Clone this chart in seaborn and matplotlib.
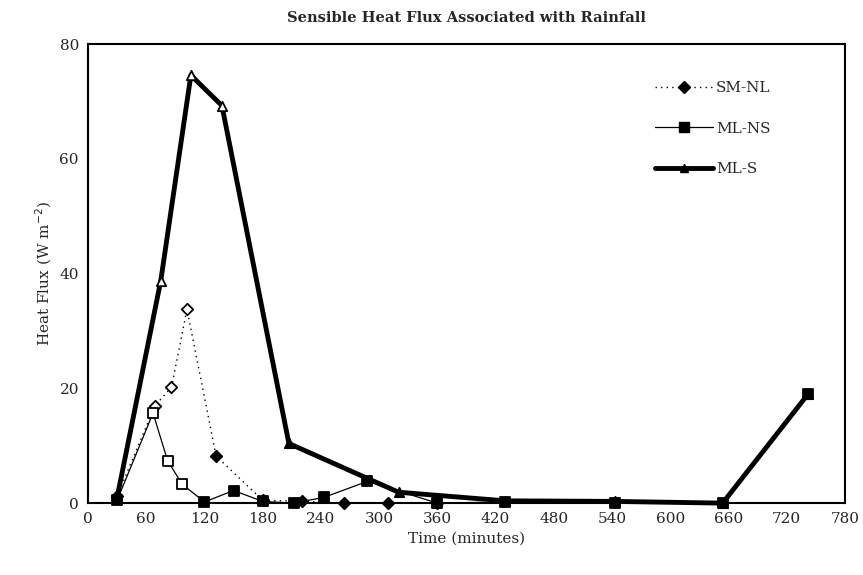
import pandas as pd
import matplotlib.pyplot as plt
import seaborn as sns
from matplotlib.lines import Line2D

# time (minutes) and sensible heat flux (W m-2)
sm_nl_time = [30, 69, 86, 102, 132, 180, 221, 264, 309, 360]
sm_nl_flux = [1.2, 17.0, 20.2, 33.8, 8.2, 0.5, 0.3, 0.0, 0.0, 0.0]

ml_ns_time = [30, 67, 82, 97, 120, 150, 180, 212, 243, 288, 360, 430, 543, 654, 742]
ml_ns_flux = [0.5, 15.7, 7.4, 3.3, 0.2, 2.2, 0.3, 0.0, 1.0, 3.8, 0.0, 0.2, 0.1, 0.0, 19.0]

ml_s_time = [30, 75, 106, 138, 207, 320, 430, 543, 654, 742]
ml_s_flux = [1.0, 38.8, 74.6, 69.3, 10.4, 1.9, 0.4, 0.3, 0.0, 19.0]

x_ticks = list(range(0, 781, 60))
y_ticks = [0, 20, 40, 60, 80]


def build_frame(name, time, flux):
    return pd.DataFrame({"series": name, "time": time, "flux": flux})


def draw_series(ax, df, marker, msize, lw, ls):
    sns.lineplot(x="time", y="flux", data=df, ax=ax, color="black",
                 linewidth=lw, linestyle=ls, sort=False, legend=False,
                 estimator=None, clip_on=False)
    # scanned original shows the steep early points hollow
    hollow = ((df["time"] < 125) & (df["flux"] > 3)) | (df["flux"] > 30)
    for mask, face in [(hollow, "white"), (~hollow, "black")]:
        sub = df[mask]
        ax.scatter(sub["time"], sub["flux"], marker=marker, s=msize,
                   facecolors=face, edgecolors="black", linewidths=1.3,
                   zorder=5, clip_on=False)


def main():
    sns.set_style("white")
    plt.rcParams["font.family"] = ["DejaVu Serif"]

    fig, ax = plt.subplots(figsize=(8.63, 5.75), dpi=100)
    fig.subplots_adjust(left=0.102, right=0.979, top=0.923, bottom=0.125)

    sm_nl = build_frame("SM-NL", sm_nl_time, sm_nl_flux)
    ml_ns = build_frame("ML-NS", ml_ns_time, ml_ns_flux)
    ml_s = build_frame("ML-S", ml_s_time, ml_s_flux)

    draw_series(ax, sm_nl, "D", 34, 1.0, (0, (1, 3)))
    draw_series(ax, ml_ns, "s", 48, 0.9, "-")
    draw_series(ax, ml_s, "^", 45, 3.5, "-")

    ax.set_xlim(0, 780)
    ax.set_ylim(0, 80)
    ax.set_xticks(x_ticks)
    ax.set_yticks(y_ticks)
    ax.tick_params(axis="both", direction="inout", length=6, width=1,
                   labelsize=11, color="black")
    for spine in ax.spines.values():
        spine.set_color("black")
        spine.set_linewidth(1.5)

    ax.set_title("Sensible Heat Flux Associated with Rainfall",
                 fontsize=10.5, fontweight="semibold", pad=16)
    ax.set_xlabel("Time (minutes)", fontsize=11)
    ax.set_ylabel("Heat Flux (W m$^{-2}$)", fontsize=11)

    handles = [
        Line2D([], [], color="black", lw=1.0, ls=(0, (1, 3)), marker="D",
               markersize=6, markerfacecolor="black"),
        Line2D([], [], color="black", lw=0.9, ls="-", marker="s",
               markersize=7, markerfacecolor="black"),
        Line2D([], [], color="black", lw=3.5, ls="-", marker="^",
               markersize=6, markerfacecolor="black"),
    ]
    ax.legend(handles, ["SM-NL", "ML-NS", "ML-S"], loc="upper right",
              bbox_to_anchor=(0.92, 0.95), frameon=False, fontsize=11,
              handlelength=3.8, labelspacing=1.75, handletextpad=0.2,
              numpoints=1)

    fig.savefig("out.png", dpi=100)


if __name__ == "__main__":
    main()
